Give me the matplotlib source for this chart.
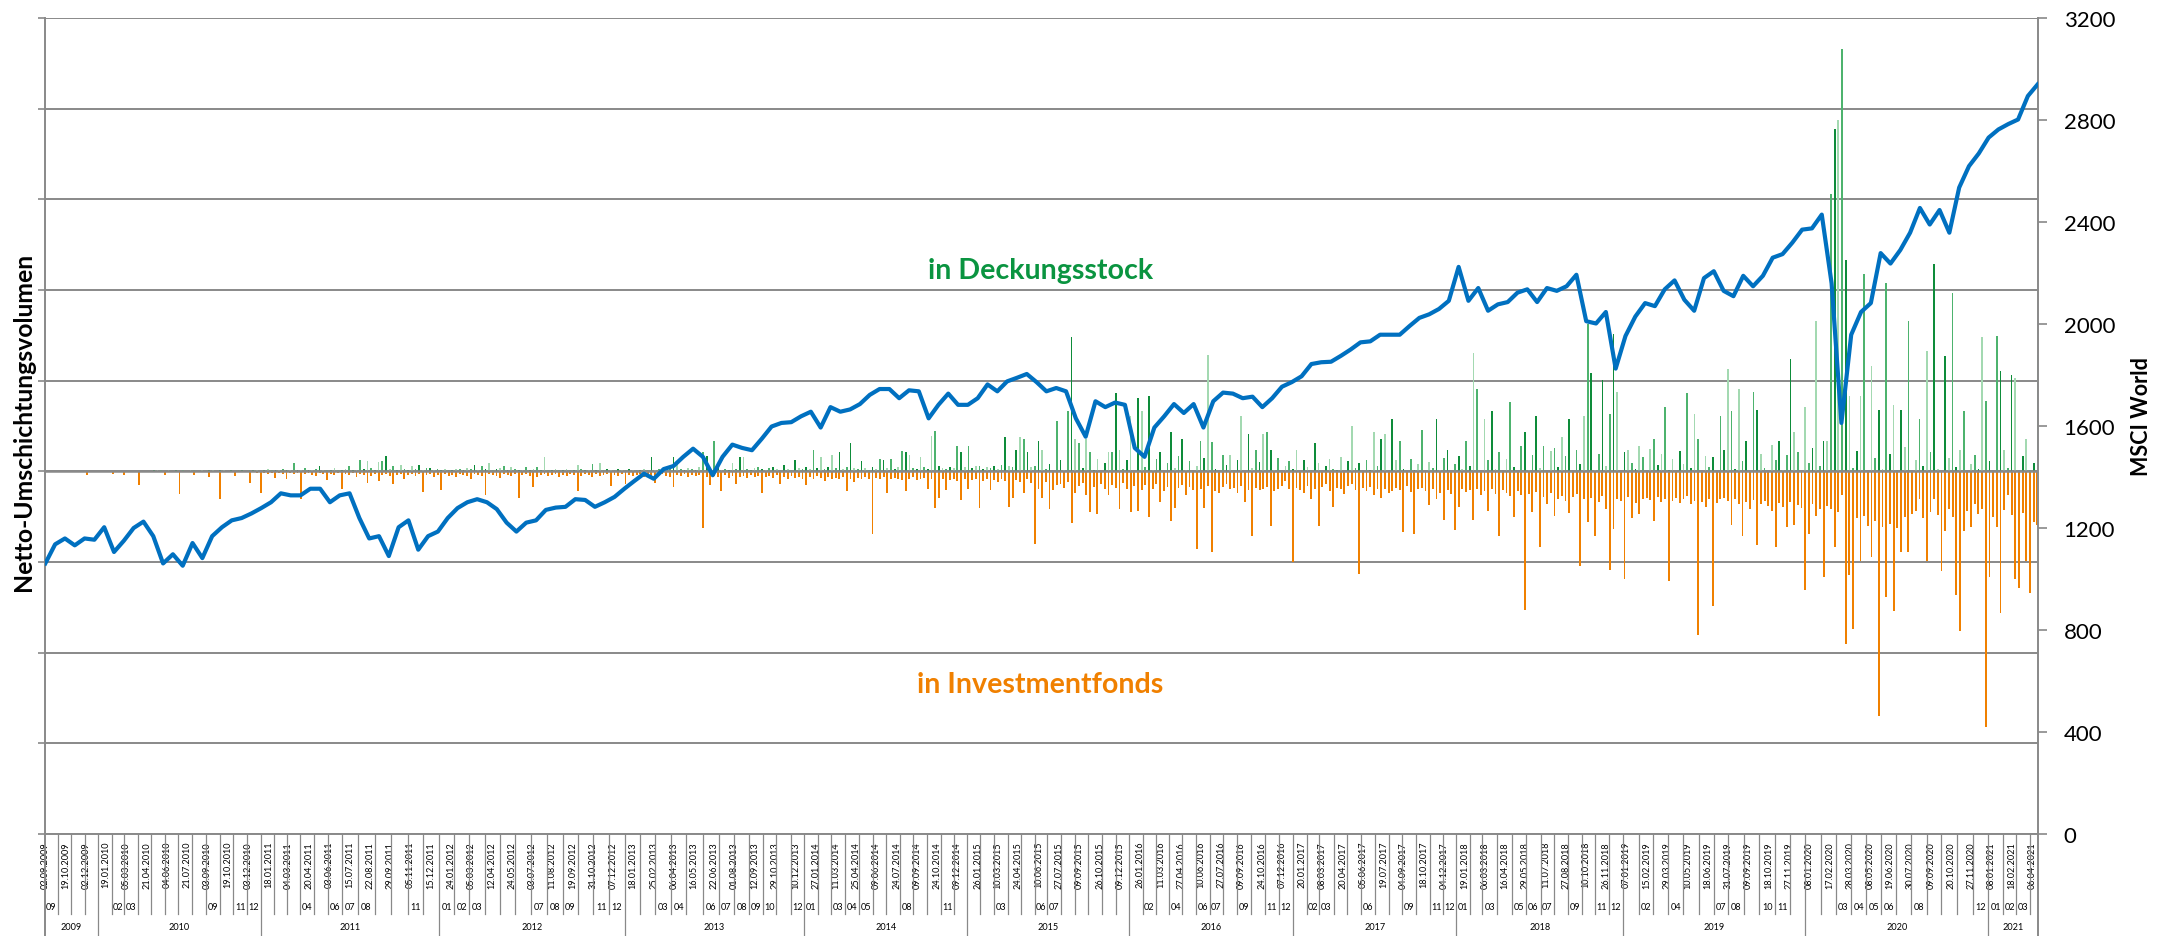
import numpy as np
import pandas as pd
import matplotlib
matplotlib.use("Agg")
import matplotlib.pyplot as plt
import matplotlib.transforms as mtransforms
from matplotlib.lines import Line2D

plt.rcParams['font.family'] = ['Lato', 'DejaVu Sans']

# ---------------- data ----------------
DATE_LABELS = [
    "02.09.2009", "19.10.2009", "02.12.2009",
    "19.01.2010", "05.03.2010", "21.04.2010", "04.06.2010", "21.07.2010", "03.09.2010", "19.10.2010", "03.12.2010",
    "18.01.2011", "04.03.2011", "20.04.2011", "03.06.2011", "15.07.2011", "22.08.2011", "29.09.2011", "05.11.2011", "15.12.2011",
    "24.01.2012", "05.03.2012", "12.04.2012", "24.05.2012", "03.07.2012", "11.08.2012", "19.09.2012", "31.10.2012", "07.12.2012",
    "18.01.2013", "25.02.2013", "06.04.2013", "16.05.2013", "22.06.2013", "01.08.2013", "12.09.2013", "29.10.2013", "10.12.2013",
    "27.01.2014", "11.03.2014", "25.04.2014", "09.06.2014", "24.07.2014", "09.09.2014", "24.10.2014", "09.12.2014",
    "26.01.2015", "10.03.2015", "24.04.2015", "10.06.2015", "27.07.2015", "09.09.2015", "26.10.2015", "09.12.2015",
    "26.01.2016", "11.03.2016", "27.04.2016", "10.06.2016", "27.07.2016", "09.09.2016", "24.10.2016", "07.12.2016",
    "20.01.2017", "08.03.2017", "20.04.2017", "05.06.2017", "19.07.2017", "04.09.2017", "18.10.2017", "04.12.2017",
    "19.01.2018", "06.03.2018", "16.04.2018", "29.05.2018", "11.07.2018", "27.08.2018", "10.10.2018", "26.11.2018",
    "07.01.2019", "15.02.2019", "29.03.2019", "10.05.2019", "18.06.2019", "31.07.2019", "09.09.2019", "18.10.2019", "27.11.2019",
    "08.01.2020", "17.02.2020", "28.03.2020", "08.05.2020", "19.06.2020", "30.07.2020", "09.09.2020", "20.10.2020", "27.11.2020",
    "08.01.2021", "18.02.2021", "06.04.2021",
]
LABEL_STEP = 33          # categories between two date labels
N_CAT = 3244             # number of categories (days)

YEARS = ["2009", "2010", "2011", "2012", "2013", "2014", "2015", "2016",
         "2017", "2018", "2019", "2020", "2021"]

MONTHS_SHOWN = [
    "2009-09",
    "2010-02", "2010-03", "2010-09", "2010-11", "2010-12",
    "2011-04", "2011-06", "2011-07", "2011-08", "2011-11",
    "2012-01", "2012-02", "2012-03", "2012-07", "2012-08", "2012-09", "2012-11", "2012-12",
    "2013-03", "2013-04", "2013-06", "2013-07", "2013-08", "2013-09", "2013-10", "2013-12",
    "2014-01", "2014-03", "2014-04", "2014-05", "2014-08", "2014-11",
    "2015-03", "2015-06", "2015-07",
    "2016-02", "2016-04", "2016-06", "2016-07", "2016-09", "2016-11", "2016-12",
    "2017-02", "2017-03", "2017-06", "2017-09", "2017-11", "2017-12",
    "2018-01", "2018-03", "2018-05", "2018-06", "2018-07", "2018-09", "2018-11", "2018-12",
    "2019-02", "2019-04", "2019-07", "2019-08", "2019-10", "2019-11",
    "2020-03", "2020-04", "2020-05", "2020-06", "2020-08", "2020-12",
    "2021-01", "2021-02", "2021-03",
]

# MSCI World (right axis), sampled evenly over the categories
MSCI = [
    1061, 1136, 1159, 1132, 1159, 1154, 1203, 1106, 1150, 1200,
    1225, 1168, 1061, 1097, 1052, 1141, 1082, 1168, 1203, 1230,
    1239, 1257, 1278, 1301, 1336, 1328, 1328, 1354, 1354, 1301,
    1328, 1336, 1239, 1159, 1168, 1090, 1203, 1230, 1115, 1168,
    1186, 1239, 1278, 1301, 1313, 1301, 1274, 1221, 1186, 1221,
    1230, 1271, 1280, 1283, 1313, 1310, 1283, 1301, 1322, 1354,
    1384, 1413, 1393, 1431, 1443, 1479, 1511, 1479, 1407, 1479,
    1527, 1514, 1505, 1550, 1598, 1612, 1615, 1638, 1656, 1594,
    1674, 1656, 1665, 1686, 1722, 1745, 1745, 1709, 1740, 1736,
    1630, 1683, 1727, 1683, 1683, 1709, 1763, 1736, 1775, 1789,
    1804, 1772, 1736, 1749, 1736, 1630, 1558, 1697, 1674, 1692,
    1683, 1514, 1479, 1594, 1638, 1686, 1651, 1686, 1594, 1697,
    1731, 1727, 1709, 1715, 1674, 1709, 1754, 1772, 1795, 1843,
    1850, 1852, 1875, 1900, 1928, 1932, 1958, 1958, 1958, 1992,
    2024, 2038, 2059, 2091, 2224, 2091, 2141, 2052, 2077, 2086,
    2123, 2136, 2086, 2141, 2130, 2148, 2193, 2011, 2002, 2047,
    1825, 1953, 2029, 2082, 2070, 2136, 2171, 2095, 2052, 2180,
    2207, 2130, 2109, 2189, 2148, 2189, 2260, 2274, 2319, 2370,
    2375, 2429, 2160, 1612, 1958, 2047, 2082, 2278, 2237, 2290,
    2358, 2455, 2390, 2447, 2358, 2535, 2619, 2669, 2731, 2763,
    2784, 2802, 2894, 2940,
]

BAR_STEP = 6   # categories aggregated per bar

# Umschichtung in den Deckungsstock (positive, left axis)
DECKUNGSSTOCK = [
    0, 0, 0, 0, 0, 0, 0, 0, 0, 0,
    0, 0, 0, 0, 0, 0, 0, 0, 0, 0,
    0, 0, 0, 0, 0, 0, 0, 0, 0, 2,
    1, 2, 0, 1, 0, 1, 0, 2, 0, 1,
    2, 0, 1, 0, 2, 1, 0, 1, 2, 0,
    1, 0, 2, 1, 0, 1, 2, 1, 0, 2,
    3, 1, 2, 1, 3, 2, 1, 9, 2, 1,
    4, 2, 1, 3, 6, 2, 1, 2, 4, 1,
    2, 3, 6, 2, 1, 13, 3, 11, 4, 2,
    10, 11, 17, 3, 6, 2, 7, 3, 2, 6,
    3, 7, 2, 4, 4, 2, 3, 2, 3, 2,
    2, 3, 3, 2, 4, 3, 7, 2, 6, 3,
    9, 2, 3, 4, 6, 2, 5, 3, 2, 2,
    5, 2, 3, 5, 2, 16, 2, 1, 3, 2,
    1, 3, 2, 2, 7, 3, 2, 1, 8, 2,
    9, 2, 3, 1, 2, 3, 1, 2, 3, 2,
    2, 1, 3, 2, 16, 2, 3, 1, 2, 3,
    16, 11, 3, 2, 4, 3, 2, 5, 21, 17,
    3, 33, 4, 2, 3, 2, 9, 3, 16, 16,
    3, 2, 4, 5, 3, 2, 4, 5, 3, 2,
    7, 3, 2, 13, 4, 3, 5, 3, 24, 4,
    16, 3, 5, 18, 4, 21, 3, 5, 31, 4,
    3, 11, 4, 2, 5, 3, 14, 13, 4, 14,
    3, 5, 22, 21, 18, 4, 3, 16, 5, 3,
    39, 45, 6, 4, 3, 5, 4, 28, 21, 5,
    28, 4, 6, 6, 3, 5, 4, 6, 3, 7,
    38, 6, 5, 23, 38, 36, 21, 5, 6, 33,
    23, 3, 8, 0, 56, 12, 2, 66, 148, 36,
    31, 4, 36, 21, 2, 14, 0, 9, 21, 21,
    86, 23, 3, 12, 61, 0, 81, 66, 5, 83,
    2, 14, 21, 0, 9, 43, 4, 17, 36, 1,
    11, 0, 6, 33, 15, 128, 32, 3, 0, 18,
    7, 18, 2, 12, 61, 0, 41, 4, 23, 10,
    41, 43, 23, 2, 15, 0, 6, 11, 3, 23,
    0, 12, 5, 2, 31, 9, 0, 6, 14, 3,
    2, 16, 0, 11, 50, 4, 9, 0, 13, 2,
    43, 6, 36, 41, 0, 58, 12, 33, 3, 0,
    14, 2, 8, 46, 0, 10, 4, 58, 2, 15,
    23, 0, 8, 17, 3, 33, 6, 131, 91, 0,
    58, 12, 66, 3, 21, 0, 14, 76, 5, 0,
    28, 43, 2, 18, 61, 4, 28, 0, 22, 26,
    5, 38, 17, 58, 0, 24, 8, 61, 163, 108,
    2, 19, 101, 6, 63, 151, 88, 0, 21, 23,
    9, 3, 28, 16, 0, 25, 36, 7, 19, 71,
    2, 14, 0, 22, 8, 86, 4, 63, 36, 0,
    17, 5, 16, 0, 61, 23, 113, 66, 3, 91,
    11, 33, 0, 88, 68, 19, 4, 0, 29, 12,
    33, 2, 18, 124, 43, 21, 0, 71, 9, 26,
    166, 6, 33, 33, 306, 378, 388, 466, 233, 83,
    4, 22, 83, 218, 0, 116, 15, 68, 3, 208,
    19, 73, 2, 68, 27, 166, 0, 12, 58, 6,
    133, 21, 229, 3, 0, 127, 15, 197, 5, 24,
    66, 0, 8, 18, 3, 148, 78, 11, 0, 149,
    111, 24, 4, 106, 103, 0, 17, 36, 2, 9,
    128,
]

# Umschichtung in Investmentfonds (negative, left axis)
INVESTMENTFONDS = [
    0, 0, -1, 0, 0, 0, 0, 0, 0, 0,
    0, -4, 0, 0, 0, 0, 0, 0, -3, 0,
    0, -4, 0, 0, 0, -15, 0, 0, 0, -1,
    0, 0, -4, 0, 0, 0, -25, 0, 0, 0,
    -4, 0, 0, -1, -6, 0, 0, -30, 0, -1,
    0, -5, 0, -1, 0, -13, 0, -2, -24, -2,
    -3, -2, -7, -2, -3, -9, -2, -3, -2, -30,
    -3, -2, -4, -5, -2, -3, -10, -3, -4, -2,
    -19, -3, -4, -2, -6, -3, -4, -13, -5, -3,
    -11, -4, -3, -5, -14, -4, -3, -9, -4, -3,
    -5, -3, -23, -4, -3, -6, -4, -21, -3, -5,
    -4, -6, -3, -4, -5, -9, -3, -4, -5, -26,
    -3, -4, -5, -7, -3, -4, -5, -3, -29, -4,
    -3, -5, -17, -6, -4, -3, -5, -4, -3, -6,
    -4, -5, -3, -4, -22, -5, -3, -4, -6, -3,
    -5, -4, -3, -16, -4, -5, -3, -14, -4, -5,
    -4, -3, -6, -4, -5, -13, -4, -3, -5, -6,
    -17, -4, -5, -3, -6, -4, -5, -4, -63, -6,
    -15, -5, -6, -22, -4, -7, -5, -14, -6, -5,
    -7, -4, -6, -5, -24, -6, -5, -7, -4, -14,
    -6, -8, -5, -7, -6, -9, -15, -6, -8, -5,
    -7, -11, -6, -8, -7, -9, -6, -22, -8, -12,
    -7, -9, -6, -8, -69, -7, -9, -6, -24, -8,
    -7, -9, -10, -22, -8, -6, -10, -9, -7, -20,
    -9, -40, -29, -8, -21, -10, -9, -11, -32, -8,
    -20, -10, -9, -40, -11, -8, -21, -10, -12, -9,
    -11, -39, -29, -10, -12, -24, -9, -13, -80, -19,
    -29, -12, -42, -21, -15, -14, -18, -12, -57, -24,
    -16, -13, -26, -45, -17, -47, -14, -19, -26, -15,
    -18, -42, -13, -20, -45, -16, -44, -21, -15, -50,
    -19, -14, -34, -22, -17, -55, -40, -18, -15, -26,
    -17, -21, -86, -19, -40, -16, -89, -22, -24, -17,
    -14, -20, -18, -24, -16, -34, -21, -71, -18, -21,
    -19, -17, -60, -22, -19, -16, -11, -20, -100, -18,
    -21, -24, -16, -31, -20, -60, -17, -14, -22, -39,
    -18, -20, -25, -16, -14, -21, -113, -18, -22, -17,
    -26, -20, -29, -19, -24, -22, -18, -21, -67, -16,
    -23, -69, -20, -18, -22, -37, -19, -31, -24, -54,
    -21, -25, -65, -39, -20, -23, -21, -54, -19, -26,
    -22, -44, -20, -25, -71, -21, -24, -27, -50, -22,
    -26, -153, -25, -45, -23, -83, -28, -36, -24, -49,
    -30, -27, -33, -46, -28, -25, -104, -31, -56, -29,
    -71, -34, -27, -41, -109, -64, -30, -33, -119, -28,
    -51, -35, -47, -30, -29, -32, -55, -28, -34, -31,
    -121, -33, -29, -35, -30, -27, -36, -33, -181, -34,
    -39, -30, -149, -35, -31, -29, -33, -59, -30, -36,
    -71, -34, -41, -32, -81, -36, -33, -38, -44, -84,
    -35, -39, -61, -34, -59, -37, -40, -131, -69, -36,
    -49, -42, -116, -38, -41, -84, -45, -26, -190, -114,
    -174, -52, -99, -49, -60, -94, -55, -270, -61, -139,
    -58, -154, -62, -89, -50, -89, -47, -44, -31, -52,
    -99, -45, -31, -48, -110, -66, -41, -50, -136, -176,
    -66, -44, -61, -36, -47, -42, -282, -116, -50, -61,
    -156, -43, -26, -48, -119, -129, -46, -99, -134, -56,
    -59,
]

# ---------------- style ----------------
GRID = '#898989'
ORANGE = '#F08000'
GREEN_TXT = '#0A9440'
GREENS = ['#A3D9B1', '#4DB36E', '#0E8C3A']
BLUE = '#0070C0'
TXT = '#000000'

W, H = 2174, 937
fig = plt.figure(figsize=(W / 100, H / 100), dpi=100)
X0, X1, Y0, Y1 = 45, 2038, 19, 835     # plot area in pixels
ax = fig.add_axes([X0 / W, 1 - Y1 / H, (X1 - X0) / W, (Y1 - Y0) / H])

# bars
xd = np.arange(len(DECKUNGSSTOCK)) * BAR_STEP + BAR_STEP / 2 - 0.5
xi = np.arange(len(INVESTMENTFONDS)) * BAR_STEP + BAR_STEP / 2 - 0.5
gcols = [GREENS[i % 3] for i in range(len(DECKUNGSSTOCK))]
ax.bar(xd, DECKUNGSSTOCK, width=2.8, color=gcols, linewidth=0, zorder=2)
ax.bar(xi, INVESTMENTFONDS, width=3.0, color=ORANGE, linewidth=0, zorder=2)

ax.set_xlim(-0.5, N_CAT - 0.5)
ax.set_ylim(-400, 500)
ax.set_yticks(np.arange(-400, 501, 100))
ax.yaxis.grid(True, color=GRID, linewidth=1.4, zorder=1)
ax.set_axisbelow(True)
ax.axhline(0, color=GRID, linewidth=1.8, zorder=3)
ax.tick_params(axis='y', which='both', left=True, labelleft=False, length=5,
               width=1.2, color=GRID, direction='out')
ax.tick_params(axis='x', bottom=False, labelbottom=False)
for side in ['top', 'right']:
    ax.spines[side].set_visible(False)
for side in ['left', 'bottom']:
    ax.spines[side].set_color(GRID)
    ax.spines[side].set_linewidth(1.4)

# MSCI line on the right axis
ax2 = ax.twinx()
xm = np.linspace(0, N_CAT - 1, len(MSCI))
ax2.plot(xm, MSCI, color=BLUE, linewidth=3.0, solid_joinstyle='round', zorder=5)
ax2.set_ylim(0, 3200)
ax2.set_yticks(np.arange(0, 3201, 400))
ax2.set_yticklabels([str(v) for v in range(0, 3201, 400)])
ax2.tick_params(axis='y', length=6.5, width=1.2, color=GRID, direction='out',
                labelsize=16, pad=12, labelcolor=TXT)
for side in ['top', 'left', 'bottom']:
    ax2.spines[side].set_visible(False)
ax2.spines['right'].set_color(GRID)
ax2.spines['right'].set_linewidth(1.4)
ax2.set_xlim(-0.5, N_CAT - 0.5)

# ---------------- multi-level category axis ----------------
blend = mtransforms.blended_transform_factory(ax.transData, fig.transFigure)
lab_dates = pd.to_datetime(DATE_LABELS, format='%d.%m.%Y')
lab_days = lab_dates.values.astype('datetime64[D]').astype(np.int64)
lab_cats = np.arange(len(DATE_LABELS)) * LABEL_STEP


def cat_of(ts):
    d = np.datetime64(ts, 'D').astype(np.int64)
    return float(np.interp(d, lab_days, lab_cats)) - 0.5


month_starts = pd.date_range('2009-10-01', '2021-04-01', freq='MS')
bounds = {(t.year, t.month): cat_of(t) for t in month_starts}
left_edge, right_edge = -0.5, N_CAT - 0.5

fy = lambda px: 1 - px / H

# date labels
for i, lab in enumerate(DATE_LABELS):
    ax.text(i * LABEL_STEP, fy(842), lab, transform=blend, rotation=90,
            ha='center', va='top', fontsize=6.6, color=TXT)

# month separators
for (yy, mm), b in bounds.items():
    ybot = fy(937) if mm == 1 else fy(915)
    fig.add_artist(Line2D([b, b], [fy(Y1), ybot], transform=blend,
                          color=GRID, linewidth=0.9))
for b in (left_edge, right_edge):
    fig.add_artist(Line2D([b, b], [fy(Y1), fy(937)], transform=blend,
                          color=GRID, linewidth=1.4))


def month_span(yy, mm):
    start = bounds.get((yy, mm), left_edge)
    ny, nm = (yy + 1, 1) if mm == 12 else (yy, mm + 1)
    end = bounds.get((ny, nm), right_edge)
    return start, end


for s in MONTHS_SHOWN:
    yy, mm = int(s[:4]), int(s[5:])
    a, b = month_span(yy, mm)
    ax.text((a + b) / 2, fy(908), s[5:], transform=blend, ha='center',
            va='center', fontsize=6.6, color=TXT)

for y in YEARS:
    yy = int(y)
    a = bounds.get((yy, 1), left_edge)
    b = bounds.get((yy + 1, 1), right_edge)
    ax.text((a + b) / 2, fy(928), y, transform=blend, ha='center',
            va='center', fontsize=6.6, color=TXT)

# ---------------- texts ----------------
fig.text(24 / W, fy(422), 'Netto-Umschichtungsvolumen', rotation=90,
         fontsize=17.8, fontweight='bold', ha='center', va='center', color=TXT)
fig.text(2142 / W, fy(417), 'MSCI World', rotation=90,
         fontsize=15.5, fontweight='bold', ha='center', va='center', color=TXT)
fig.text(1041 / W, fy(279), 'in Deckungsstock', fontsize=20.6, fontweight='bold',
         color=GREEN_TXT, ha='center', va='baseline')
fig.text(1040 / W, fy(693), 'in Investmentfonds', fontsize=20.6, fontweight='bold',
         color=ORANGE, ha='center', va='baseline')

fig.savefig('out.png', dpi=100, facecolor='white')
